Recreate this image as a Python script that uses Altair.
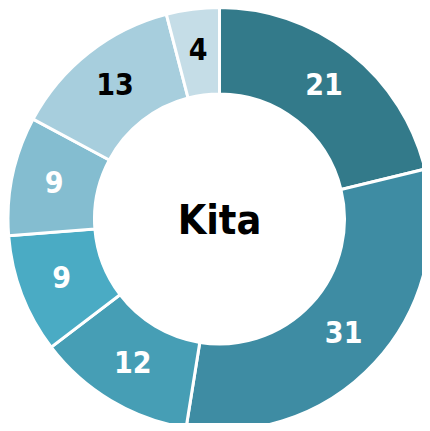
import altair as alt
import pandas as pd

labels = ["a", "b", "c", "d", "e", "f", "g"]
values = [21, 31, 12, 9, 9, 13, 4]
colors = ["#337a8a", "#3e8ca3", "#469eb5", "#4aabc4", "#84bdd0", "#a7cedd", "#c5dde7"]
text_colors = ["white", "white", "white", "white", "white", "black", "black"]
center_title = "Kita"

df = pd.DataFrame({
    "label": labels,
    "value": values,
    "order": list(range(len(values))),
    "tcolor": text_colors,
})

FONT = "DejaVu Sans Condensed, DejaVu Sans, sans-serif"
CX, CY = 211.5, 211

base = alt.Chart(df).encode(
    theta=alt.Theta("value:Q", stack=True),
    order=alt.Order("order:Q"),
    x=alt.value(CX),
    y=alt.value(CY),
)

arcs = base.mark_arc(outerRadius=211.5, innerRadius=125, stroke="white", strokeWidth=3).encode(
    color=alt.Color("label:N", scale=alt.Scale(domain=labels, range=colors), legend=None),
)

texts = base.mark_text(radius=169, font=FONT, fontWeight="bold", fontSize=30).encode(
    text=alt.Text("value:Q"),
    color=alt.Color("tcolor:N", scale=None),
)

center = alt.Chart(pd.DataFrame({"t": [center_title]})).mark_text(
    font=FONT, fontWeight="bold", fontSize=41, color="black"
).encode(
    text="t:N",
    x=alt.value(CX),
    y=alt.value(CY + 3),
)

chart = alt.layer(arcs, texts, center).properties(
    width=414, height=415, padding=0, autosize=alt.AutoSizeParams(type="none")
).configure_view(stroke=None)

chart.save("out.html", embed_options={"renderer": "svg", "actions": False})
